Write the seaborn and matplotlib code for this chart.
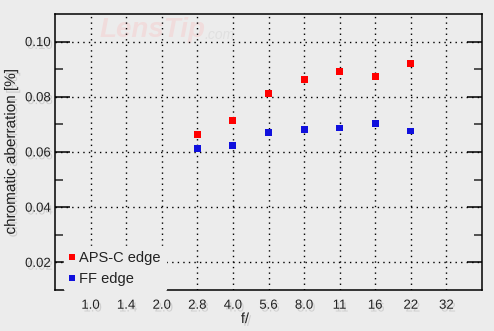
import matplotlib
matplotlib.use("Agg")
import matplotlib.pyplot as plt
import matplotlib.patheffects as pe
import seaborn as sns
import pandas as pd

f_labels = ["1.0", "1.4", "2.0", "2.8", "4.0", "5.6", "8.0", "11", "16", "22", "32"]
data_f = ["2.8", "4.0", "5.6", "8.0", "11", "16", "22"]
aps_c = [0.0662, 0.0713, 0.0811, 0.0862, 0.0891, 0.0873, 0.0920]
ff = [0.0611, 0.0625, 0.0669, 0.0680, 0.0687, 0.0702, 0.0676]
series = ["APS-C edge", "FF edge"]
colors = ["#ff0000", "#1010dd"]
y_ticks = [0.02, 0.04, 0.06, 0.08, 0.10]
y_minor = [0.03, 0.05, 0.07, 0.09]

df = pd.DataFrame({
    "f": data_f * 2,
    "ca": aps_c + ff,
    "series": [series[0]] * len(data_f) + [series[1]] * len(data_f),
})

sns.set_style("white")
plt.rcParams["font.family"] = ["Liberation Sans", "DejaVu Sans"]
bg = "#ececec"
fig = plt.figure(figsize=(4.94, 3.31), dpi=100, facecolor=bg)
ax = fig.add_axes([55 / 494, 1 - 290 / 331, 427 / 494, 276 / 331])
ax.set_facecolor(bg)

sns.stripplot(data=df, x="f", y="ca", hue="series", order=f_labels,
              hue_order=series, palette=colors, jitter=False, marker="s",
              size=5, linewidth=0, ax=ax, zorder=3)

ax.set_xlim(-1, 11)
ax.set_ylim(0.01, 0.11)
ax.set_yticks(y_ticks)
ax.set_yticks(y_minor, minor=True)
ax.set_yticklabels([f"{v:.2f}" for v in y_ticks])
ax.grid(True, which="major", color="black", linestyle=(0, (1, 3)), linewidth=1.0)
for s in ax.spines.values():
    s.set_color("black")
    s.set_linewidth(1.1)

shadow = [pe.withSimplePatchShadow(offset=(1.5, -2), shadow_rgbFace="#999999", alpha=0.35)]

ax.tick_params(axis="y", which="major", direction="in", length=11, width=1.1,
               left=True, right=True, labelsize=9.5, pad=3, colors="black")
ax.tick_params(axis="y", which="minor", direction="in", length=6, width=1.1,
               left=True, right=True)
ax.tick_params(axis="x", which="both", length=0, labelsize=9.5, pad=7)
for lab in ax.get_xticklabels() + ax.get_yticklabels():
    lab.set_color("#222222")
    lab.set_path_effects(shadow)

ax.set_xlabel("f/", fontsize=10.5, color="#222222")
ax.xaxis.set_label_coords((245 - 55) / 427, (290 - 312) / 276)
ax.set_ylabel("chromatic aberration [%]", fontsize=11, labelpad=5, color="#222222")
ax.xaxis.label.set_path_effects(shadow)
ax.yaxis.label.set_path_effects(shadow)

ax.text(0.105, 0.915, "LensTip", transform=ax.transAxes, fontsize=20, style="italic",
        fontweight="bold", color="#f2d8d8", alpha=0.8, zorder=0.5)
ax.text(0.35, 0.91, ".com", transform=ax.transAxes, fontsize=10, style="italic",
        color="#e0e0e0", zorder=0.5)

leg = ax.legend(loc="lower left", bbox_to_anchor=(0.021, -0.004), frameon=True,
                fontsize=10.5, handlelength=0.4, handletextpad=0.3, borderpad=0.35,
                labelspacing=0.45, markerscale=0.75, borderaxespad=0)
leg.get_frame().set_facecolor(bg)
leg.get_frame().set_edgecolor(bg)
leg.get_frame().set_alpha(1)
leg.set_zorder(5)
for t in leg.get_texts():
    t.set_color("#222222")

fig.savefig("out.png", dpi=100, facecolor=bg)
